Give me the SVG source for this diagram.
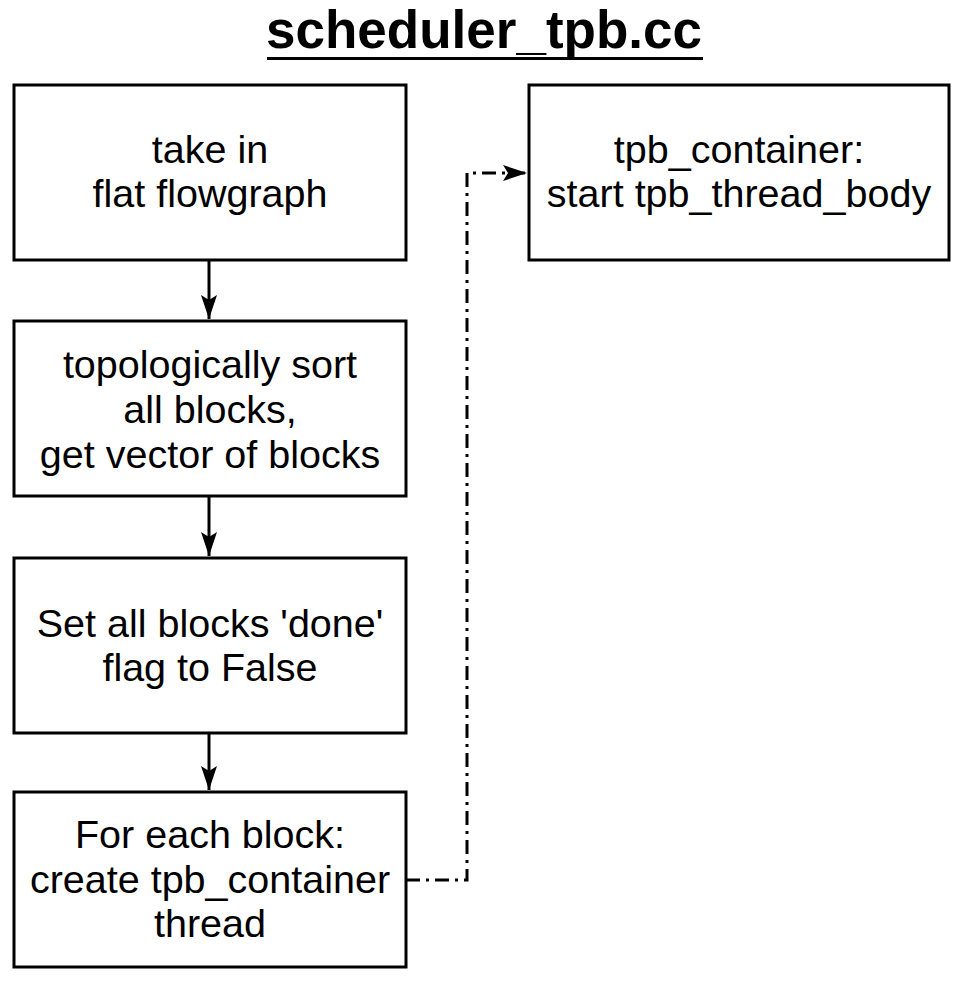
<svg xmlns="http://www.w3.org/2000/svg" width="968" height="994" viewBox="0 0 968 994">
<style>
.box{fill:#fff;stroke:#000;stroke-width:3}
.t{font-family:"Liberation Sans",Arial,sans-serif;font-size:39.5px;fill:#000;text-anchor:middle}
.title{font-family:"Liberation Sans",Arial,sans-serif;font-size:53px;font-weight:bold;fill:#000;text-anchor:middle}
.c{fill:none;stroke:#000;stroke-width:3}
.dd{stroke-dasharray:14 6 3 6}
</style>
<defs>
<marker id="ah" markerWidth="14" markerHeight="14" refX="13" refY="7" orient="auto" markerUnits="userSpaceOnUse" viewBox="0 0 14 14">
<path d="M0,0 L14,7 L0,14 Z" fill="#000"/>
</marker>
<marker id="ah2" markerWidth="24" markerHeight="16" refX="24" refY="8" orient="auto" markerUnits="userSpaceOnUse" viewBox="0 0 24 16">
<path d="M0,0 L24,8 L0,16 L5,8 Z" fill="#000"/>
</marker>
</defs>
<rect width="968" height="994" fill="#fff"/>
<g id="title">
<text class="title" x="484" y="48">scheduler_tpb.cc</text>
<line x1="267" y1="58.5" x2="703" y2="58.5" stroke="#000" stroke-width="3"/>
</g>
<g id="connectors">
<line class="c" x1="209" y1="260" x2="209" y2="319" marker-end="url(#ah2)"/>
<line class="c" x1="209" y1="496" x2="209" y2="556" marker-end="url(#ah2)"/>
<line class="c" x1="209" y1="733" x2="209" y2="790" marker-end="url(#ah2)"/>
<polyline class="c dd" points="406,880 467,880 467,173 527,173" marker-end="url(#ah2)"/>
</g>
<g id="n1">
<rect class="box" x="14" y="85" width="392" height="175"/>
<text class="t" x="210" y="163">take in</text>
<text class="t" x="210" y="207">flat flowgraph</text>
</g>
<g id="n2">
<rect class="box" x="14" y="321" width="392" height="175"/>
<text class="t" x="210" y="378">topologically sort</text>
<text class="t" x="210" y="423">all blocks,</text>
<text class="t" x="210" y="468">get vector of blocks</text>
</g>
<g id="n3">
<rect class="box" x="14" y="558" width="392" height="175"/>
<text class="t" x="210" y="637">Set all blocks 'done'</text>
<text class="t" x="210" y="681">flag to False</text>
</g>
<g id="n4">
<rect class="box" x="14" y="792" width="392" height="175"/>
<text class="t" x="210" y="848">For each block:</text>
<text class="t" x="210" y="893">create tpb_container</text>
<text class="t" x="210" y="937">thread</text>
</g>
<g id="n5">
<rect class="box" x="529" y="85" width="420" height="175"/>
<text class="t" x="739" y="163">tpb_container:</text>
<text class="t" x="739" y="207">start tpb_thread_body</text>
</g>
</svg>
